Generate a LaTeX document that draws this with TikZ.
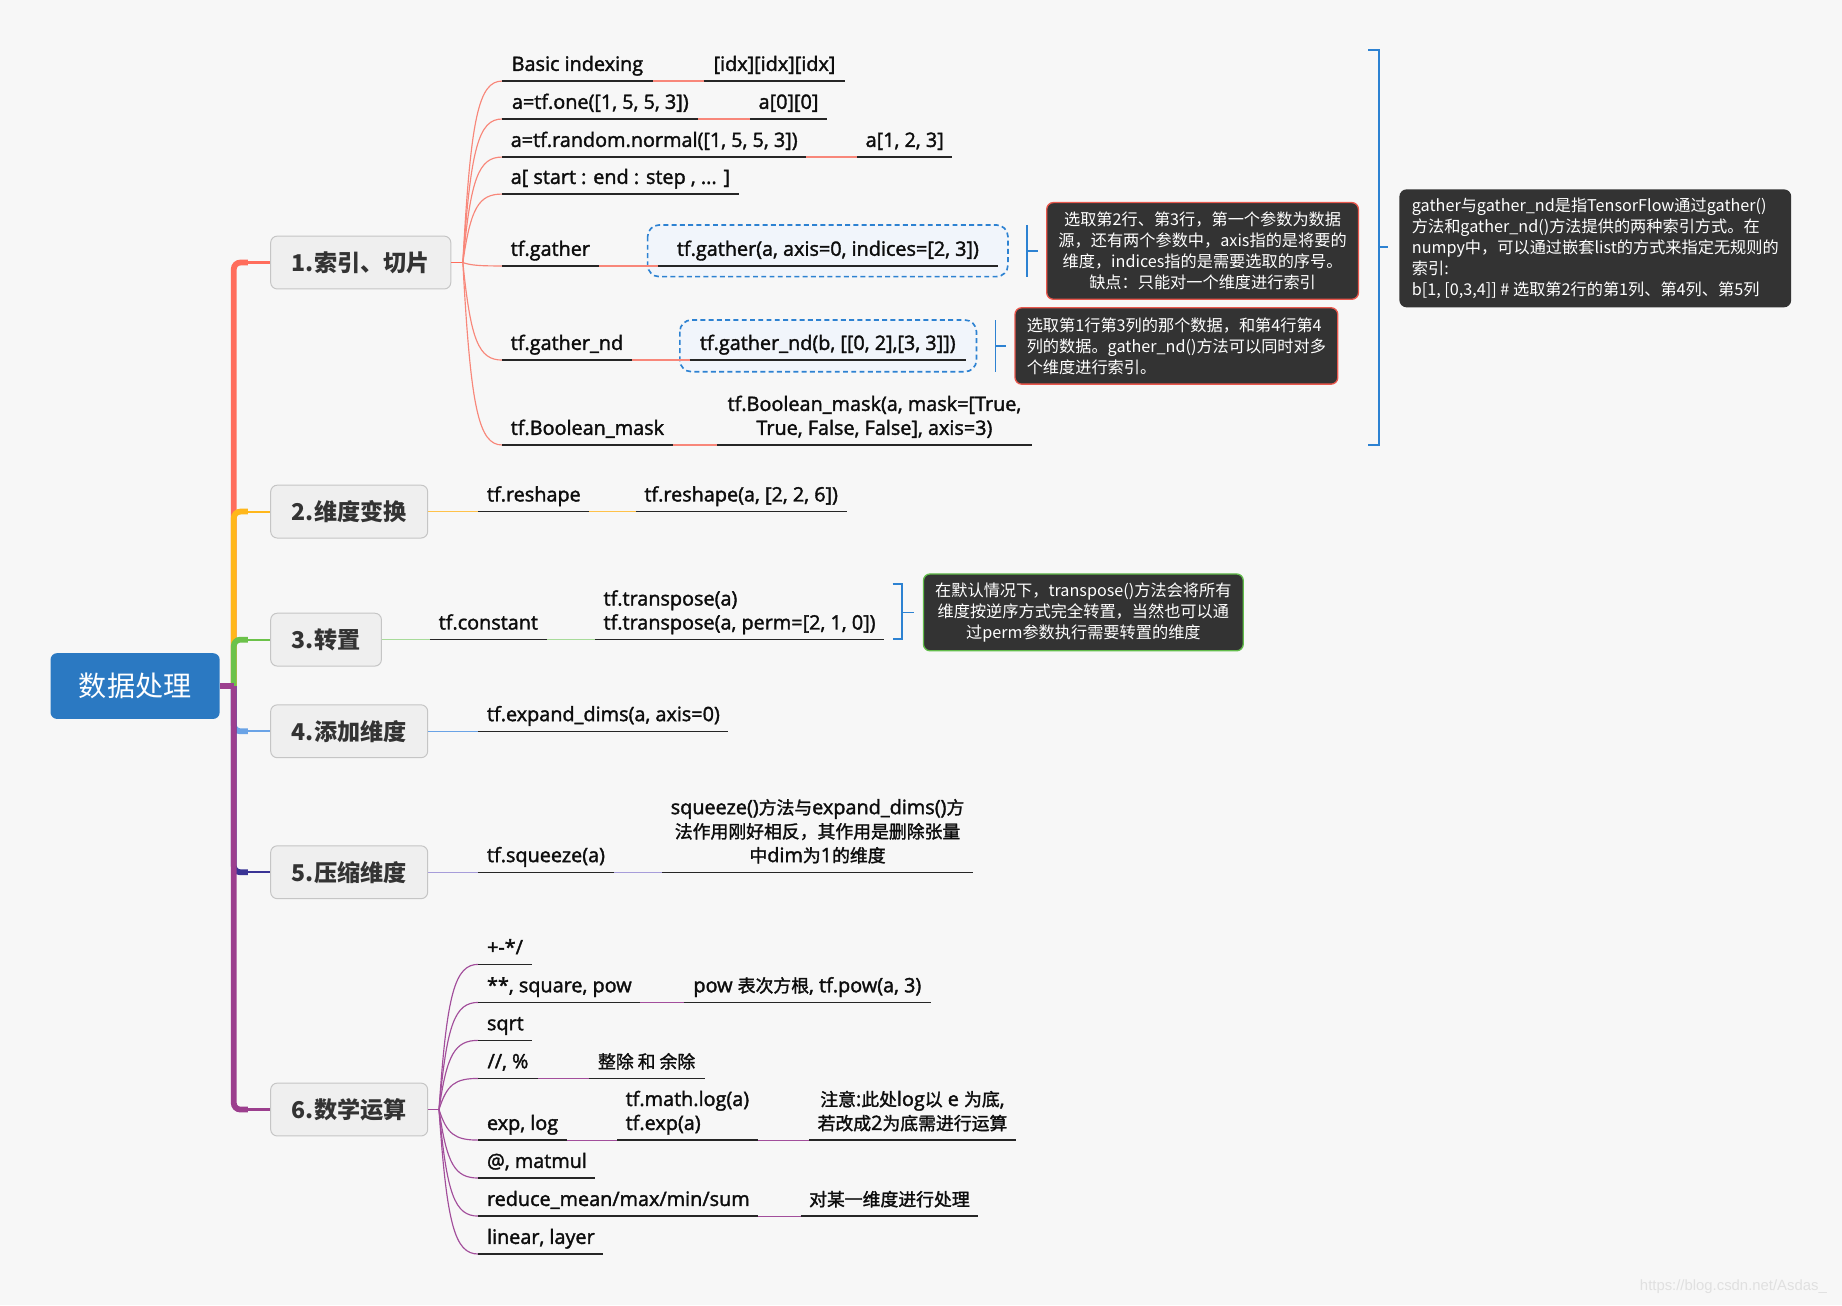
\documentclass[tikz,border=0pt]{standalone}
\usepackage{xcolor}
\usepackage{fontspec}
\setmainfont{Open Sans}
\newfontfamily\leaffont{Open Sans}[FakeBold=1.8]
\newfontfamily\cjk{Noto Sans CJK SC}[Scale=0.9,FakeBold=1.6]
\newfontfamily\cjkt{Noto Sans CJK SC}
\newfontfamily\wmfont{Liberation Sans}
\usepackage{tikz}
\usetikzlibrary{calc}
\newlength\pxl
\setlength\pxl{0.025cm}
\newcommand\zh[1]{{\cjk #1}}
\definecolor{bgcol}{HTML}{F7F7F7}
\definecolor{rootcol}{HTML}{2B79C2}
\definecolor{topicfill}{HTML}{EFEFEF}
\definecolor{topicline}{HTML}{C5C5C5}
\definecolor{inkcol}{HTML}{333333}
\definecolor{ulcol}{HTML}{262626}
\definecolor{redcol}{HTML}{FF6D5C}
\definecolor{redtwig}{HTML}{F8877A}
\definecolor{orgcol}{HTML}{FFB71B}
\definecolor{orgtwig}{HTML}{FFC24A}
\definecolor{grncol}{HTML}{6CC24A}
\definecolor{grntwig}{HTML}{A8DB9A}
\definecolor{blucol}{HTML}{6AA3E6}
\definecolor{indcol}{HTML}{3A3495}
\definecolor{indtwig}{HTML}{A79DDA}
\definecolor{purcol}{HTML}{9C3F8E}
\definecolor{purtwig}{HTML}{A24E9B}
\definecolor{notefill}{HTML}{333333}
\definecolor{notered}{HTML}{E9574C}
\definecolor{notegrn}{HTML}{62BD4B}
\definecolor{markcol}{HTML}{2D82D2}
\definecolor{boxfill}{HTML}{F1F5FB}
\definecolor{wmcol}{HTML}{E0E0E0}

\begin{document}
\begin{tikzpicture}[x=0.025cm,y=-0.025cm]
  \tikzstyle{rootbox}=[rectangle,rounded corners=4pt,fill=rootcol,text=white,
    font=\cjkt\fontsize{17}{20}\selectfont,minimum width=144\pxl,minimum height=56\pxl,inner sep=0pt]
  \tikzstyle{topicbox}=[rectangle,rounded corners=4pt,fill=topicfill,draw=topicline,line width=0.6pt,
    text=inkcol,font=\cjkt\bfseries\fontsize{14}{17}\selectfont,minimum height=45\pxl,inner xsep=18\pxl,anchor=west]
  \tikzstyle{leafbox}=[anchor=south west,inner xsep=7\pxl,inner ysep=1.6pt,text=black!95,
    font=\leaffont\fontsize{12}{14.5}\selectfont,execute at end node=\strut]
  \tikzstyle{notebox}=[rectangle,rounded corners=4pt,fill=notefill,text=white,line width=0.8pt,
    font=\cjkt\fontsize{9.8}{12.75}\selectfont,inner xsep=10\pxl]
  \tikzstyle{uline}=[ulcol,line width=0.9pt]
  \tikzstyle{trunkline}=[line width=3.5pt,rounded corners=4pt]
  \tikzstyle{stemline}=[line width=1.3pt]
  \tikzstyle{twigline}=[line width=0.7pt]
  \tikzstyle{markline}=[markcol,line width=1pt]
  \tikzstyle{dashbox}=[draw=markcol,fill=boxfill,line width=1pt,dash pattern=on 3pt off 2pt,rounded corners=7pt]

  % BACKGROUND
  \useasboundingbox (0,0) rectangle (1568,1111);
  \fill[bgcol] (0,0) rectangle (1568,1111);
  \draw[dashbox] (551.3,191.5) rectangle (858,235.5);
  \draw[dashbox] (578.7,272.4) rectangle (831.2,316.4);

  % ROOT AND TOPICS
  \node[rootbox] (root) at (115,584) {数据处理};
  \coordinate (hub) at (199,584);
  \node[topicbox] (t1) at (230,223.5) {1.索引、切片};
  \node[topicbox] (t2) at (230,435.5) {2.维度变换};
  \node[topicbox] (t3) at (230,544.5) {3.转置};
  \node[topicbox] (t4) at (230,622.5) {4.添加维度};
  \node[topicbox] (t5) at (230,742.5) {5.压缩维度};
  \node[topicbox] (t6) at (230,944.5) {6.数学运算};

  \draw[trunkline,redcol] (hub) -- (hub |- t1.west) -- ++(12,0) coordinate (s1);
  \draw[stemline,redcol] (s1) -- (t1.west);
  \draw[trunkline,orgcol] (hub) -- (hub |- t2.west) -- ++(12,0) coordinate (s2);
  \draw[stemline,orgcol] (s2) -- (t2.west);
  \draw[trunkline,grncol] (hub) -- (hub |- t3.west) -- ++(12,0) coordinate (s3);
  \draw[stemline,grncol] (s3) -- (t3.west);
  \draw[trunkline,blucol] (hub) -- (hub |- t4.west) -- ++(12,0) coordinate (s4);
  \draw[stemline,blucol] (s4) -- (t4.west);
  \draw[trunkline,indcol] (hub) -- (hub |- t5.west) -- ++(12,0) coordinate (s5);
  \draw[stemline,indcol] (s5) -- (t5.west);
  \draw[trunkline,purcol] (hub) -- (hub |- t6.west) -- ++(12,0) coordinate (s6);
  \draw[stemline,purcol] (s6) -- (t6.west);
  \draw[line width=3.2pt,purcol] (root.east) -- (hub);

  % 1. INDEXING
  \coordinate (fan1) at (394,223.5);
  \node[leafbox,minimum width=127.5\pxl] (l1a) at (427.5,69) {Basic indexing};
  \node[leafbox,minimum width=120\pxl] (l1a2) at (599,69) {[idx][idx][idx]};
  \node[leafbox,minimum width=166.5\pxl] (l1b) at (427.5,101.3) {a=tf.one([1, 5, 5, 3])};
  \node[leafbox,minimum width=64\pxl] (l1b2) at (638.5,101.3) {a[0][0]};
  \node[leafbox,minimum width=258\pxl] (l1c) at (427.5,133.7) {a=tf.random.normal([1, 5, 5, 3])};
  \node[leafbox,minimum width=79\pxl] (l1c2) at (729.6,133.7) {a[1, 2, 3]};
  \node[leafbox,minimum width=193\pxl] (l1d) at (427.5,165.2) {a[ start : end : step , ... ]};
  \node[leafbox,minimum width=80\pxl] (l1e) at (427.5,226.4) {tf.gather};
  \node[leafbox,minimum width=289\pxl] (l1e2) at (560,226.4) {tf.gather(a, axis=0, indices=[2, 3])};
  \node[leafbox,minimum width=107.5\pxl] (l1f) at (427.5,306.5) {tf.gather\_nd};
  \node[leafbox,minimum width=234.7\pxl] (l1f2) at (587,306.5) {tf.gather\_nd(b, [[0, 2],[3, 3]])};
  \node[leafbox,minimum width=140\pxl] (l1g) at (427.5,378.8) {tf.Boolean\_mask};
  \node[leafbox,minimum width=267\pxl,align=center] (l1g2) at (610.6,378.8)
    {tf.Boolean\_mask(a, mask=[True,\\True, False, False], axis=3)};

  \draw[twigline,redcol] (t1.east) -- (fan1);
  \foreach \n in {l1a,l1b,l1c,l1d,l1e,l1f,l1g}
    \draw[twigline,redtwig] (fan1) .. controls ($(fan1)!0.8!(fan1 |- \n.south west)+(6.7,0)$)
      and ($(fan1 |- \n.south west)+(13.4,0)$) .. (\n.south west);
  \foreach \a/\b in {l1a/l1a2,l1b/l1b2,l1c/l1c2,l1e/l1e2,l1f/l1f2,l1g/l1g2}
    \draw[twigline,redtwig] (\a.south east) -- (\b.south west);

  \draw[markline] (874.5,191.5) -- (874.5,235.5) (874.5,213.4) -- (883.6,213.4);
  \draw[markline] (847.5,272.4) -- (847.5,316.4) (847.5,294.4) -- (856.6,294.4);
  \draw[markline] (1164.6,42.6) -- (1173.6,42.6) -- (1173.6,378.8) -- (1164.6,378.8)
    (1173.6,210.5) -- (1181.4,210.5);

  \node[notebox,draw=notered,minimum width=263.4\pxl,minimum height=82.3\pxl,align=center] (n1) at (1023.7,213.6)
    {选取第2行、第3行，第一个参数为数据\\源，还有两个参数中，axis指的是将要的\\维度，indices指的是需要选取的序号。\\缺点：只能对一个维度进行索引};
  \node[notebox,draw=notered,minimum width=273.3\pxl,minimum height=65\pxl,align=left] (n2) at (1001.4,294.5)
    {选取第1行第3列的那个数据，和第4行第4\\列的数据。gather\_nd()方法可以同时对多\\个维度进行索引。};
  \node[notebox,draw=notefill,minimum width=332.4\pxl,minimum height=99.3\pxl,align=left] (n4) at (1358,211.4)
    {gather与gather\_nd是指TensorFlow通过gather()\\方法和gather\_nd()方法提供的两种索引方式。在\\numpy中，可以通过嵌套list的方式来指定无规则的\\索引:\\b[1, [0,3,4]] \# 选取第2行的第1列、第4列、第5列};

  % 2. RESHAPE
  \node[leafbox,minimum width=90\pxl] (l2a) at (407.3,435.5) {tf.reshape};
  \node[leafbox,minimum width=178.6\pxl] (l2b) at (541.3,435.5) {tf.reshape(a, [2, 2, 6])};
  \draw[twigline,orgtwig] (t2.east) -- (l2a.south west);
  \draw[twigline,orgtwig] (l2a.south east) -- (l2b.south west);

  % 3. TRANSPOSE
  \node[leafbox,minimum width=95.8\pxl] (l3a) at (366.2,544.5) {tf.constant};
  \node[leafbox,minimum width=246\pxl,align=left] (l3b) at (506.3,544.5)
    {tf.transpose(a)\\tf.transpose(a, perm=[2, 1, 0])};
  \draw[twigline,grntwig] (t3.east) -- (l3a.south west);
  \draw[twigline,grntwig] (l3a.south east) -- (l3b.south west);
  \draw[markline] (759.8,497.4) -- (768,497.4) -- (768,544.2) -- (759.8,544.2) (768,521.3) -- (778,521.3);
  \node[notebox,draw=notegrn,minimum width=271.6\pxl,minimum height=65.4\pxl,align=center] (n3) at (922.2,521.3)
    {在默认情况下，transpose()方法会将所有\\维度按逆序方式完全转置，当然也可以通\\过perm参数执行需要转置的维度};

  % 4. EXPAND
  \node[leafbox,minimum width=211\pxl] (l4a) at (407.3,622.5) {tf.expand\_dims(a, axis=0)};
  \draw[twigline,blucol] (t4.east) -- (l4a.south west);

  % 5. SQUEEZE
  \node[leafbox,minimum width=112\pxl] (l5a) at (407.3,742.5) {tf.squeeze(a)};
  \node[leafbox,minimum width=261.3\pxl,align=center] (l5b) at (563.7,742.5)
    {squeeze()\zh{方法与}expand\_dims()\zh{方}\\\zh{法作用刚好相反，其作用是删除张量}\\\zh{中}dim\zh{为}1\zh{的维度}};
  \draw[twigline,indtwig] (t5.east) -- (l5a.south west);
  \draw[twigline,indtwig] (l5a.south east) -- (l5b.south west);

  % 6. MATH
  \coordinate (fan6) at (373.7,944.5);
  \node[leafbox,minimum width=44.4\pxl] (l6a) at (407.3,820.9) {+-*/};
  \node[leafbox,minimum width=130\pxl] (l6b) at (407.3,853.3) {**, square, pow};
  \node[leafbox,minimum width=210\pxl] (l6b2) at (582,853.3) {pow \zh{表次方根}, tf.pow(a, 3)};
  \node[leafbox,minimum width=42\pxl] (l6c) at (407.3,885.6) {sqrt};
  \node[leafbox,minimum width=49.7\pxl] (l6d) at (407.3,918) {//, \%};
  \node[leafbox,minimum width=98.3\pxl] (l6d2) at (501,918) {\zh{整除 和 余除}};
  \node[leafbox,minimum width=74\pxl] (l6e) at (407.3,970.5) {exp, log};
  \node[leafbox,minimum width=119.2\pxl,align=left] (l6e2) at (525.3,970.5) {tf.math.log(a)\\tf.exp(a)};
  \node[leafbox,minimum width=175.3\pxl,align=center] (l6e3) at (688.7,970.5)
    {\zh{注意}:\zh{此处}log\zh{以} e \zh{为底},\\\zh{若改成}2\zh{为底需进行运算}};
  \node[leafbox,minimum width=96.7\pxl] (l6f) at (407.3,1002.8) {@, matmul};
  \node[leafbox,minimum width=230.7\pxl] (l6g) at (407.3,1035.2) {reduce\_mean/max/min/sum};
  \node[leafbox,minimum width=150.3\pxl] (l6g2) at (681.5,1035.2) {\zh{对某一维度进行处理}};
  \node[leafbox,minimum width=101.7\pxl] (l6h) at (407.3,1067.5) {linear, layer};

  \draw[twigline,purtwig] (t6.east) -- (fan6);
  \foreach \n in {l6a,l6b,l6c,l6d,l6e,l6f,l6g,l6h}
    \draw[twigline,purtwig] (fan6) .. controls ($(fan6)!0.8!(fan6 |- \n.south west)+(6.7,0)$)
      and ($(fan6 |- \n.south west)+(13.4,0)$) .. (\n.south west);
  \foreach \a/\b in {l6b/l6b2,l6d/l6d2,l6e/l6e2,l6e2/l6e3,l6g/l6g2}
    \draw[twigline,purtwig] (\a.south east) -- (\b.south west);

  % UNDERLINES
  \foreach \n in {l1a,l1a2,l1b,l1b2,l1c,l1c2,l1d,l1e,l1e2,l1f,l1f2,l1g,l1g2,l2a,l2b,l3a,l3b,l4a,l5a,l5b,
      l6a,l6b,l6b2,l6c,l6d,l6d2,l6e,l6e2,l6e3,l6f,l6g,l6g2,l6h}
    \draw[uline] (\n.south west) -- (\n.south east);

  \node[font=\wmfont\fontsize{9}{10}\selectfont,text=wmcol,anchor=east] (wm) at (1560,1095) {https://blog.csdn.net/Asdas\_};
\end{tikzpicture}
\end{document}
